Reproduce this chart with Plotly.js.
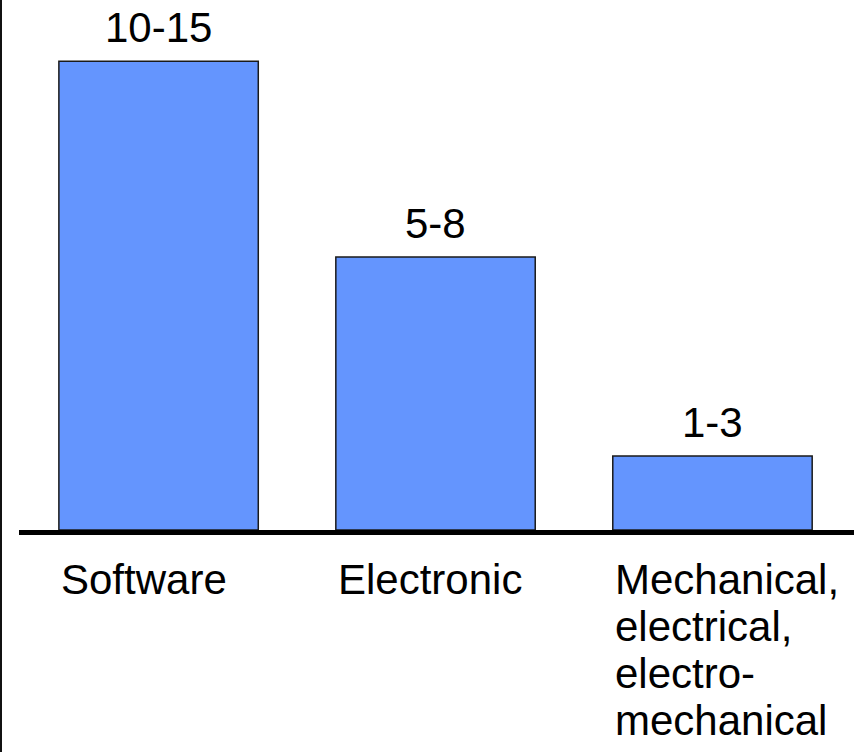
<!DOCTYPE html>
<html>
<head>
<meta charset="utf-8">
<script src="https://cdn.plot.ly/plotly-3.0.1.min.js"></script>
<style>
  html, body { margin: 0; padding: 0; background: #fff; }
  #chart { width: 856px; height: 752px; }
</style>
</head>
<body>
<div id="chart"></div>
<script>
// Categories (each entry is the label split into its drawn lines)
const categories = ["Software", "Electronic", "Mechanical"];
const categoryLines = [
  ["Software"],
  ["Electronic"],
  ["Mechanical,", "electrical,", "electro-", "mechanical"]
];
// Bar heights and the range printed above each bar
const barValues = [12.5, 7.28, 1.97];
const rangeLabels = ["10-15", "5-8", "1-3"];

const W = 856, H = 752;
const M = { l: 19, r: 2, t: 0, b: 222 };
const plotW = W - M.l - M.r;
const barWidth = 0.72;
const FONT = "Liberation Sans, Arial, sans-serif";
const FS = 42;
const LINE_GAP = 47;

const annotations = [];
categories.forEach((c, i) => {
  // range label above the bar
  annotations.push({
    x: c, y: barValues[i], xref: "x", yref: "y",
    text: rangeLabels[i], showarrow: false,
    xanchor: "center", yanchor: "bottom", yshift: 8,
    font: { family: FONT, size: FS, color: "#000" }
  });
  // category label, left aligned with the bar's left edge
  categoryLines[i].forEach((line, k) => {
    annotations.push({
      x: i - barWidth / 2, y: 0, xref: "x", yref: "y",
      text: line, showarrow: false,
      xanchor: "left", yanchor: "top",
      yshift: -24 - k * LINE_GAP, xshift: 0,
      font: { family: FONT, size: FS, color: "#000" }
    });
  });
});

const trace = {
  type: "bar",
  x: categories,
  y: barValues,
  width: barWidth,
  marker: { color: "#6495fe", line: { color: "#1a1a1a", width: 1.5 } },
  hoverinfo: "skip"
};

const layout = {
  width: W, height: H,
  margin: M,
  paper_bgcolor: "#fff", plot_bgcolor: "#fff",
  showlegend: false,
  xaxis: {
    type: "category",
    range: [-0.504, 2.511],
    showline: true, linecolor: "#000", linewidth: 5,
    showticklabels: false, ticks: "", showgrid: false, zeroline: false
  },
  yaxis: {
    range: [0, 14.13],
    visible: false, showgrid: false, zeroline: false
  },
  annotations: annotations,
  shapes: [{
    // thin frame line on the left edge
    type: "line", xref: "paper", yref: "paper",
    x0: -(M.l - 1) / plotW, x1: -(M.l - 1) / plotW,
    y0: -M.b / (H - M.t - M.b), y1: 1,
    line: { color: "#111", width: 2 }
  }]
};

Plotly.newPlot("chart", [trace], layout, { staticPlot: true, displayModeBar: false });
</script>
</body>
</html>
